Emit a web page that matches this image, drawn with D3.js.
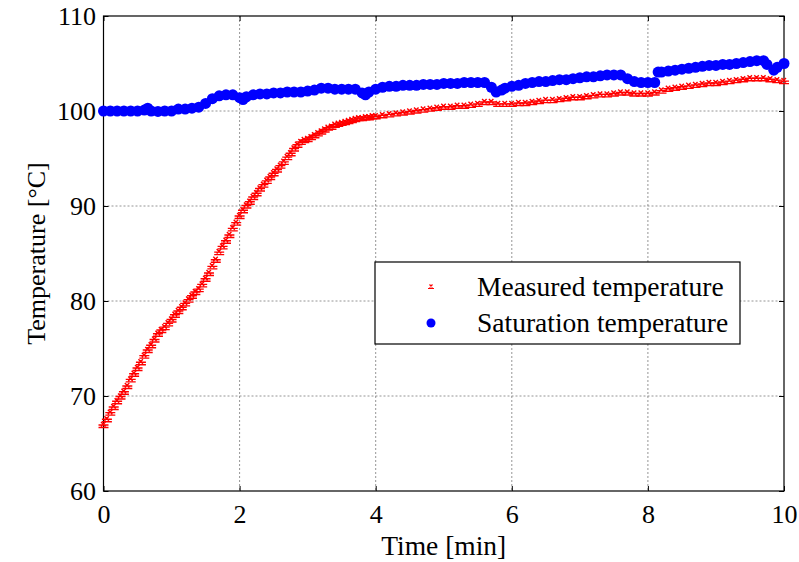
<!DOCTYPE html>
<html>
<head>
<meta charset="utf-8">
<script src="https://cdn.jsdelivr.net/npm/d3@7"></script>
<style>
  body { margin: 0; background: #fff; }
  text { font-family: "Liberation Serif", "Times New Roman", serif; }
</style>
</head>
<body>
<div id="chart"></div>
<script>
// values
const measuredTime = [
  0, 0.05, 0.1, 0.15, 0.2, 0.25, 0.3, 0.35, 0.4, 0.45, 0.5, 0.55, 0.6, 0.65, 0.7, 0.75, 0.8, 0.85, 0.9, 0.95,
  1.0, 1.05, 1.1, 1.15, 1.2, 1.25, 1.3, 1.35, 1.4, 1.45, 1.5, 1.55, 1.6, 1.65, 1.7, 1.75, 1.8, 1.85, 1.9, 1.95,
  2.0, 2.05, 2.1, 2.15, 2.2, 2.25, 2.3, 2.35, 2.4, 2.45, 2.5, 2.55, 2.6, 2.65, 2.7, 2.75, 2.8, 2.85, 2.9, 2.95,
  3.0, 3.05, 3.1, 3.15, 3.2, 3.25, 3.3, 3.35, 3.4, 3.45, 3.5, 3.55, 3.6, 3.65, 3.7, 3.75, 3.8, 3.85, 3.9, 3.95,
  4.0, 4.1, 4.2, 4.3, 4.4, 4.5, 4.6, 4.7, 4.8, 4.9, 5.0, 5.1, 5.2, 5.3, 5.4, 5.5, 5.6, 5.7, 5.8, 5.9,
  6.0, 6.1, 6.2, 6.3, 6.4, 6.5, 6.6, 6.7, 6.8, 6.9, 7.0, 7.1, 7.2, 7.3, 7.4, 7.5, 7.6, 7.7, 7.8, 7.9,
  8.0, 8.1, 8.2, 8.3, 8.4, 8.5, 8.6, 8.7, 8.8, 8.9, 9.0, 9.1, 9.2, 9.3, 9.4, 9.5, 9.6, 9.7, 9.8, 9.9, 10.0
];
const measuredTemp = [
  67.0, 67.6, 68.3, 68.9, 69.5, 70.0, 70.5, 71.1, 71.8, 72.4, 73.0, 73.6, 74.3, 74.9, 75.4, 76.0, 76.6, 77.0, 77.3, 77.7,
  78.1, 78.6, 79.0, 79.4, 79.8, 80.2, 80.6, 81.0, 81.3, 81.8, 82.4, 83.0, 83.7, 84.4, 85.2, 85.8, 86.4, 87.0, 87.7, 88.3,
  89.0, 89.6, 90.1, 90.5, 91.0, 91.4, 91.9, 92.3, 92.7, 93.1, 93.5, 93.9, 94.3, 94.7, 95.2, 95.6, 96.1, 96.5, 96.8, 97.0,
  97.1, 97.3, 97.5, 97.7, 97.9, 98.1, 98.3, 98.4, 98.6, 98.7, 98.8, 98.9, 99.0, 99.1, 99.2, 99.3, 99.3, 99.4, 99.4, 99.5,
  99.5, 99.6, 99.7, 99.8, 99.9, 100.0, 100.1, 100.2, 100.3, 100.4, 100.5, 100.5, 100.6, 100.6, 100.7, 100.8, 101.0, 101.0, 100.8, 100.8,
  100.8, 100.9, 100.9, 101.0, 101.1, 101.2, 101.2, 101.3, 101.4, 101.5, 101.5, 101.6, 101.7, 101.8, 101.8, 101.9, 102.0, 102.0, 101.9, 101.9,
  101.9, 102.0, 102.2, 102.4, 102.5, 102.6, 102.7, 102.8, 102.9, 103.0, 103.0, 103.1, 103.2, 103.3, 103.4, 103.5, 103.5, 103.5, 103.4, 103.3, 103.2
];

const saturationTime = [
  0, 0.1, 0.2, 0.3, 0.4, 0.5, 0.6, 0.65, 0.7, 0.8, 0.9, 1.0, 1.1, 1.2, 1.3, 1.4, 1.5, 1.6, 1.7, 1.8, 1.9,
  2.0, 2.05, 2.1, 2.2, 2.3, 2.4, 2.5, 2.6, 2.7, 2.8, 2.9, 3.0, 3.1, 3.2, 3.3, 3.4, 3.5, 3.6, 3.7, 3.8, 3.85, 3.9,
  4.0, 4.1, 4.2, 4.3, 4.4, 4.5, 4.6, 4.7, 4.8, 4.9, 5.0, 5.1, 5.2, 5.3, 5.4, 5.5, 5.6, 5.7, 5.77, 5.85, 5.9,
  6.0, 6.1, 6.2, 6.3, 6.4, 6.5, 6.6, 6.7, 6.8, 6.9, 7.0, 7.1, 7.2, 7.3, 7.4, 7.5, 7.6, 7.7, 7.8, 7.9,
  8.0, 8.1, 8.15, 8.2, 8.3, 8.4, 8.5, 8.6, 8.7, 8.8, 8.9, 9.0, 9.1, 9.2, 9.3, 9.4, 9.5, 9.6, 9.7, 9.75, 9.85, 9.9, 10.0
];
const saturationTemp = [
  100.0, 100.0, 100.0, 100.0, 100.0, 100.0, 100.1, 100.3, 100.0, 99.95, 100.0, 100.0, 100.2, 100.2, 100.3, 100.4, 100.8, 101.3, 101.6, 101.7, 101.7,
  101.4, 101.2, 101.5, 101.7, 101.8, 101.8, 101.9, 101.9, 102.0, 102.0, 102.0, 102.1, 102.2, 102.4, 102.4, 102.3, 102.3, 102.3, 102.3, 101.9, 101.7, 102.0,
  102.3, 102.5, 102.6, 102.6, 102.7, 102.7, 102.7, 102.8, 102.8, 102.8, 102.9, 102.9, 102.9, 103.0, 103.0, 103.0, 103.0, 102.5, 102.0, 102.2, 102.4,
  102.6, 102.7, 102.9, 103.0, 103.1, 103.1, 103.2, 103.3, 103.3, 103.4, 103.5, 103.6, 103.6, 103.7, 103.8, 103.8, 103.8, 103.4, 103.1, 103.0,
  103.0, 103.0, 104.1, 104.1, 104.2, 104.3, 104.4, 104.5, 104.6, 104.7, 104.8, 104.8, 104.9, 104.9, 105.0, 105.1, 105.2, 105.3, 105.3, 104.9, 104.3, 104.6, 105.0
];

const xTicks = [0, 2, 4, 6, 8, 10];
const yTicks = [60, 70, 80, 90, 100, 110];
const seriesNames = ["Measured temperature", "Saturation temperature"];

const width = 799;
const height = 562;
const margin = { top: 16, right: 15, bottom: 71, left: 103.5 };

const svg = d3.select("#chart")
  .append("svg")
  .attr("width", width)
  .attr("height", height);

const x = d3.scaleLinear().domain([0, 10]).range([margin.left, width - margin.right]);
const y = d3.scaleLinear().domain([60, 110]).range([height - margin.bottom, margin.top]);

const plotW = x(10) - x(0);
const plotH = y(60) - y(110);

// grid
const grid = svg.append("g").attr("stroke", "#7a7a7a").attr("stroke-width", 0.8).attr("stroke-dasharray", "2,2");
grid.selectAll(".gx").data(xTicks.slice(1, -1)).enter().append("line")
  .attr("x1", d => x(d)).attr("x2", d => x(d))
  .attr("y1", y(110)).attr("y2", y(60));
grid.selectAll(".gy").data(yTicks.slice(1, -1)).enter().append("line")
  .attr("y1", d => y(d)).attr("y2", d => y(d))
  .attr("x1", x(0)).attr("x2", x(10));

// axes with inward ticks
function styleAxis(g) {
  g.select(".domain").remove();
  g.selectAll(".tick line").attr("stroke", "#000");
  g.selectAll(".tick text").attr("fill", "#000").style("font-size", "26px")
    .style("font-family", "'Liberation Serif', 'Times New Roman', serif");
}

svg.append("g")
  .attr("transform", `translate(0,${y(60)})`)
  .call(d3.axisBottom(x).tickValues(xTicks).tickSize(-5).tickSizeOuter(0).tickPadding(13.5))
  .call(styleAxis);

svg.append("g")
  .attr("transform", `translate(${x(0)},0)`)
  .call(d3.axisLeft(y).tickValues(yTicks).tickSize(-5).tickSizeOuter(0).tickPadding(7.5))
  .call(styleAxis);

svg.append("g")
  .attr("transform", `translate(0,${y(110)})`)
  .call(d3.axisTop(x).tickValues(xTicks).tickSize(-5).tickSizeOuter(0).tickFormat(""))
  .call(styleAxis);

svg.append("g")
  .attr("transform", `translate(${x(10)},0)`)
  .call(d3.axisRight(y).tickValues(yTicks).tickSize(-5).tickSizeOuter(0).tickFormat(""))
  .call(styleAxis);

// box
svg.append("rect")
  .attr("x", x(0)).attr("y", y(110))
  .attr("width", plotW).attr("height", plotH)
  .attr("fill", "none").attr("stroke", "#000").attr("stroke-width", 1.2);

// markers
const redMarker = "M-5,3h10M-5,0.5h10M-2.5,-2.5l4.5,4.5M2,-2.5l-4.5,4.5";
const measured = measuredTime.map((t, i) => ({ t, v: measuredTemp[i] }));
const saturation = saturationTime.map((t, i) => ({ t, v: saturationTemp[i] }));

svg.append("g")
  .selectAll("path")
  .data(measured)
  .enter().append("path")
  .attr("d", redMarker)
  .attr("transform", d => `translate(${x(d.t)},${y(d.v)})`)
  .attr("fill", "none")
  .attr("stroke", "#ff0000")
  .attr("stroke-width", 1.4);

svg.append("g")
  .selectAll("circle")
  .data(saturation)
  .enter().append("circle")
  .attr("cx", d => x(d.t))
  .attr("cy", d => y(d.v))
  .attr("r", 5.5)
  .attr("fill", "#0000ff");

// axis titles
svg.append("text")
  .attr("x", (x(0) + x(10)) / 2)
  .attr("y", 555)
  .attr("text-anchor", "middle")
  .style("font-size", "27.5px")
  .text("Time [min]");

svg.append("text")
  .attr("transform", `translate(45,${(y(60) + y(110)) / 2}) rotate(-90)`)
  .attr("text-anchor", "middle")
  .style("font-size", "26px")
  .text("Temperature [°C]");

// legend
const legend = svg.append("g");
legend.append("rect")
  .attr("x", 375).attr("y", 262)
  .attr("width", 365).attr("height", 82)
  .attr("fill", "#fff").attr("stroke", "#000").attr("stroke-width", 1.2);

const rows = legend.selectAll(".row")
  .data(seriesNames)
  .enter().append("g")
  .attr("transform", (d, i) => `translate(0,${i * 36})`);

rows.append("text")
  .attr("x", 477).attr("y", 296)
  .style("font-size", "27.5px")
  .text(d => d);

rows.filter((d, i) => i === 0).append("path")
  .attr("d", "M-3,2.5h6M-1.5,-1.5l3,3M1.5,-1.5l-3,3")
  .attr("transform", "translate(431,286)")
  .attr("fill", "none").attr("stroke", "#ff0000").attr("stroke-width", 1.2);

rows.filter((d, i) => i === 1).append("circle")
  .attr("cx", 431).attr("cy", 287).attr("r", 4.5)
  .attr("fill", "#0000ff");
</script>
</body>
</html>
